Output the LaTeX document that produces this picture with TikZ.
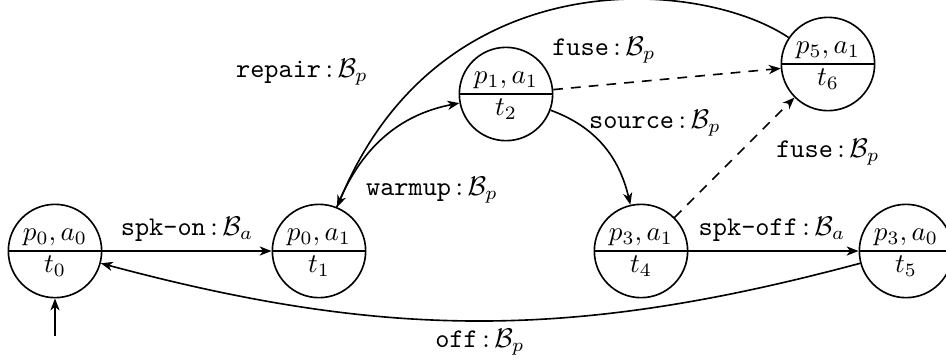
\documentclass[tikz,border=0pt]{standalone}
\usetikzlibrary{shapes.multipart,arrows.meta}
\newcommand{\lab}[2]{$\texttt{#1}\,{:}\,\mathcal{B}_{#2}$}
\begin{document}
\begin{tikzpicture}[x=0.37037pt,y=-0.37037pt,
  state/.style={circle split,draw,line width=0.6pt,minimum size=34pt,inner sep=1.5pt},
  edge/.style={line width=0.6pt,-{Stealth[length=4.4pt,width=3.4pt,inset=1.3pt]}},
  dsh/.style={dash pattern=on 3.6pt off 3pt},
  lbl/.style={inner sep=0pt}]
\useasboundingbox (0,0) rectangle (946,361);
\node[state] (t0) at (55,251) {$p_0,a_0$\nodepart{lower}$t_0$};
\node[state] (t1) at (319,251) {$p_0,a_1$\nodepart{lower}$t_1$};
\node[state] (t2) at (506,94) {$p_1,a_1$\nodepart{lower}$t_2$};
\node[state] (t4) at (641,251) {$p_3,a_1$\nodepart{lower}$t_4$};
\node[state] (t5) at (906,251) {$p_3,a_0$\nodepart{lower}$t_5$};
\node[state] (t6) at (828,64) {$p_5,a_1$\nodepart{lower}$t_6$};
\coordinate (init) at (55,336);
\draw[edge] (init) -- (t0);
\draw[edge] (t0) -- (t1);
\draw[edge] (t4) -- (t5);
\draw[edge] (t1) to[out=68,in=191] (t2);
\draw[edge] (t2) to[out=-20,in=103] (t4);
\draw[edge,dsh] (t2) -- (t6);
\draw[edge,dsh] (t4) -- (t6);
\draw[edge] (t6) .. controls (700,-22) and (440,-42) .. (t1);
\draw[edge] (t5) to[bend left=15] (t0);
\node[lbl] (l1) at (187,229) {\lab{spk-on}{a}};
\node[lbl] (l2) at (772,229) {\lab{spk-off}{a}};
\node[lbl] (l3) at (432,190) {\lab{warmup}{p}};
\node[lbl] (l4) at (302,72) {\lab{repair}{p}};
\node[lbl] (l5) at (604,50) {\lab{fuse}{p}};
\node[lbl] (l6) at (655,123) {\lab{source}{p}};
\node[lbl] (l7) at (828,152) {\lab{fuse}{p}};
\node[lbl] (l8) at (480,342) {\lab{off}{p}};
\end{tikzpicture}
\end{document}
